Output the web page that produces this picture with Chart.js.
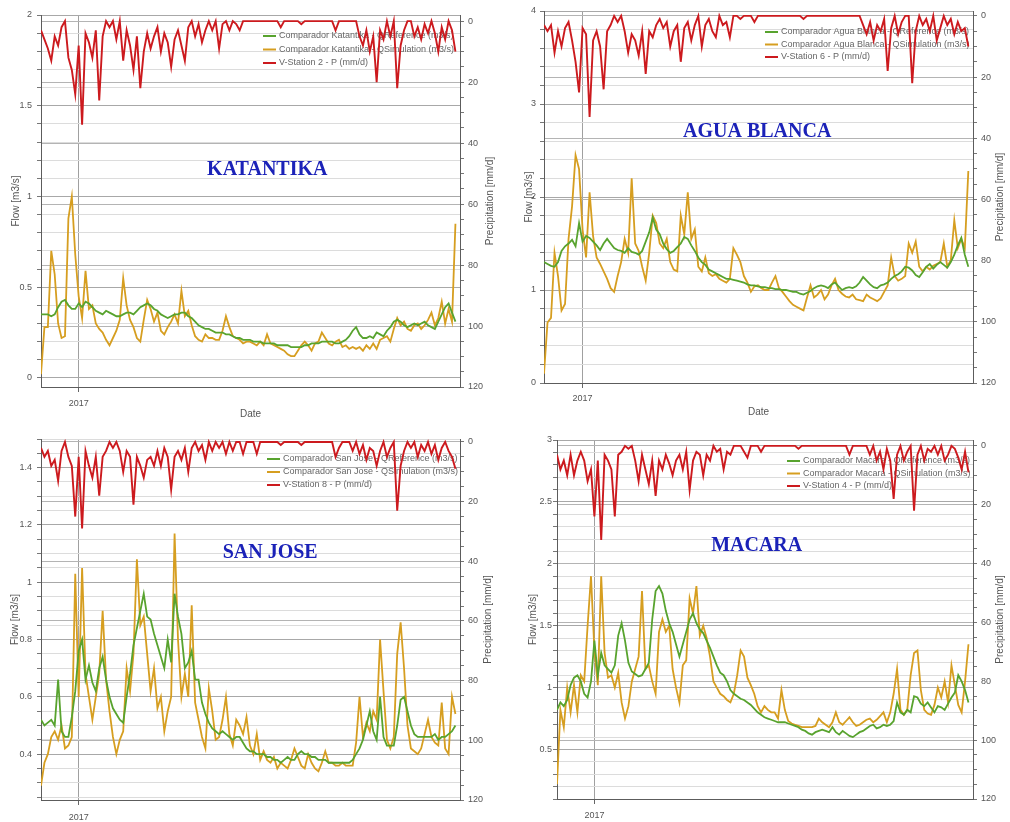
<!DOCTYPE html>
<html>
<head>
<meta charset="utf-8">
<script src="https://cdn.jsdelivr.net/npm/chart.js@4.4.1/dist/chart.umd.min.js"></script>
<style>
  html, body { margin: 0; padding: 0; background: #fff; }
  #wrap { position: relative; width: 1010px; height: 822px; overflow: hidden; background: #fff; }
  canvas { position: absolute; }
</style>
</head>
<body>
<div id="wrap">
  <canvas id="c1" width="505" height="420" style="left:0;top:0;width:505px;height:420px"></canvas>
  <canvas id="c2" width="505" height="420" style="left:505px;top:0;width:505px;height:420px"></canvas>
  <canvas id="c3" width="505" height="402" style="left:0;top:420px;width:505px;height:402px"></canvas>
  <canvas id="c4" width="505" height="402" style="left:505px;top:420px;width:505px;height:402px"></canvas>
</div>
<script>
// sample days, counted from 1 Jan 2017 (one reading every 3 days)
var days = Array.from({ length: 122 }, (_, i) => -33 + 3 * i);
var yearTicks = [0];
var yearLabels = ['2017'];
var rainLabels = [0, 20, 40, 60, 80, 100, 120];

// Katantika
var katantikaRef = [0.35,0.35,0.35,0.34,0.35,0.39,0.42,0.43,0.40,0.38,
  0.38,0.41,0.39,0.42,0.41,0.39,0.37,0.36,0.35,0.37,
  0.36,0.35,0.34,0.34,0.35,0.36,0.36,0.35,0.37,0.39,
  0.40,0.41,0.40,0.38,0.37,0.35,0.34,0.33,0.34,0.35,
  0.35,0.36,0.36,0.34,0.33,0.31,0.29,0.28,0.27,0.27,
  0.26,0.25,0.25,0.25,0.24,0.24,0.23,0.22,0.22,0.21,
  0.21,0.21,0.20,0.20,0.20,0.19,0.19,0.19,0.19,0.18,
  0.18,0.18,0.18,0.17,0.17,0.17,0.17,0.18,0.18,0.19,
  0.19,0.19,0.20,0.20,0.20,0.20,0.19,0.19,0.20,0.21,
  0.23,0.26,0.28,0.24,0.22,0.22,0.23,0.22,0.25,0.24,
  0.23,0.26,0.28,0.31,0.32,0.31,0.29,0.28,0.29,0.30,
  0.29,0.30,0.31,0.29,0.28,0.27,0.31,0.35,0.39,0.41,
  0.36,0.31];
var katantikaSim = [0.02,0.28,0.28,0.70,0.57,0.30,0.22,0.23,0.88,1.00,
  0.68,0.45,0.33,0.59,0.38,0.40,0.30,0.27,0.25,0.21,
  0.18,0.22,0.26,0.32,0.55,0.40,0.32,0.28,0.22,0.20,
  0.32,0.43,0.38,0.31,0.36,0.26,0.24,0.28,0.31,0.35,
  0.30,0.48,0.34,0.37,0.29,0.23,0.21,0.20,0.24,0.22,
  0.22,0.21,0.21,0.26,0.34,0.28,0.23,0.22,0.21,0.19,
  0.20,0.20,0.19,0.18,0.20,0.18,0.24,0.19,0.18,0.17,
  0.16,0.15,0.13,0.12,0.12,0.15,0.18,0.20,0.18,0.15,
  0.19,0.20,0.25,0.22,0.19,0.18,0.20,0.21,0.17,0.18,
  0.16,0.17,0.16,0.17,0.15,0.18,0.16,0.19,0.16,0.21,
  0.22,0.23,0.20,0.27,0.33,0.29,0.31,0.27,0.26,0.29,
  0.30,0.27,0.29,0.32,0.36,0.29,0.33,0.42,0.30,0.38,
  0.31,0.85];
var katantikaRain = [3,6,9,13,5,8,2,0,12,16,
  24,8,34,4,7,12,3,26,5,0,
  2,0,6,0,13,3,8,16,5,22,
  10,4,9,5,2,10,4,7,15,6,
  3,8,13,2,0,5,1,7,3,0,
  3,0,9,1,0,3,0,1,3,0,
  0,0,0,0,0,0,0,0,0,0,
  2,0,0,0,0,0,1,0,0,0,
  0,0,0,0,0,0,3,0,0,0,
  0,0,0,5,8,3,10,5,20,3,
  6,0,5,0,22,8,3,0,0,5,
  2,6,1,4,0,4,10,2,6,0,
  3,10];

// Agua Blanca
var aguaRef = [1.30,1.28,1.26,1.25,1.30,1.42,1.47,1.50,1.54,1.47,
  1.72,1.52,1.58,1.56,1.52,1.48,1.43,1.50,1.55,1.50,
  1.45,1.43,1.42,1.40,1.45,1.41,1.40,1.38,1.42,1.52,
  1.62,1.78,1.65,1.60,1.50,1.44,1.40,1.42,1.46,1.50,
  1.57,1.55,1.48,1.42,1.35,1.30,1.27,1.22,1.20,1.18,
  1.16,1.14,1.12,1.12,1.11,1.10,1.09,1.08,1.06,1.05,
  1.05,1.04,1.03,1.03,1.02,1.02,1.01,1.01,1.00,1.00,
  0.99,0.98,0.98,0.96,0.95,0.97,0.99,1.02,1.04,1.05,
  1.04,1.02,1.06,1.08,1.04,1.00,1.02,1.03,1.02,1.04,
  1.08,1.14,1.10,1.06,1.03,1.02,1.05,1.06,1.08,1.12,
  1.15,1.17,1.20,1.25,1.24,1.21,1.16,1.14,1.19,1.25,
  1.28,1.23,1.27,1.30,1.27,1.24,1.30,1.38,1.48,1.56,
  1.38,1.25];
var aguaSim = [0.10,0.65,0.70,1.40,1.15,0.78,0.85,1.55,1.90,2.45,
  2.30,1.65,1.35,2.05,1.58,1.35,1.28,1.20,1.12,1.02,
  0.98,1.15,1.30,1.55,1.40,2.20,1.50,1.42,1.25,1.10,
  1.40,1.80,1.72,1.50,1.45,1.55,1.30,1.22,1.20,1.80,
  1.60,2.05,1.55,1.65,1.25,1.20,1.35,1.18,1.15,1.17,
  1.12,1.10,1.08,1.12,1.45,1.38,1.30,1.15,1.08,0.98,
  1.04,1.05,1.02,1.00,1.00,1.08,1.15,1.02,0.98,0.93,
  0.88,0.84,0.82,0.80,0.78,0.92,1.05,0.92,0.95,1.00,
  0.90,0.95,1.05,1.12,1.00,0.96,0.93,0.92,0.95,0.90,
  0.89,0.88,0.95,0.92,0.90,0.88,0.91,0.98,1.05,1.35,
  1.15,1.10,1.12,1.15,1.50,1.40,1.52,1.25,1.20,1.25,
  1.22,1.26,1.28,1.30,1.50,1.25,1.32,1.75,1.45,1.55,
  1.45,2.28];
var aguaRain = [3,5,3,12,5,10,4,2,8,15,
  25,4,6,33,8,5,10,24,5,3,
  0,2,0,5,12,6,8,13,5,19,
  5,7,3,1,4,2,10,5,3,15,
  4,2,8,3,0,10,3,1,5,7,
  0,3,2,7,0,0,1,0,0,0,
  2,0,0,0,0,0,0,0,0,0,
  0,0,0,0,1,0,0,0,0,0,
  0,0,0,0,0,0,0,0,0,0,
  0,3,6,2,8,3,5,1,18,4,
  0,6,2,0,0,22,5,0,3,1,
  5,0,8,4,0,3,1,6,2,5,
  4,10];

// San Jose
var sanJoseRef = [0.52,0.50,0.51,0.52,0.50,0.66,0.48,0.46,0.46,0.53,
  0.62,0.76,0.80,0.66,0.71,0.65,0.62,0.70,0.74,0.66,
  0.60,0.56,0.54,0.52,0.51,0.60,0.68,0.78,0.84,0.90,
  0.96,0.88,0.87,0.82,0.78,0.74,0.70,0.80,0.72,0.96,
  0.88,0.82,0.70,0.72,0.76,0.66,0.66,0.58,0.54,0.51,
  0.49,0.48,0.47,0.48,0.47,0.46,0.45,0.46,0.46,0.44,
  0.42,0.41,0.41,0.40,0.40,0.40,0.39,0.39,0.38,0.38,
  0.37,0.38,0.39,0.38,0.38,0.40,0.41,0.40,0.40,0.39,
  0.39,0.38,0.38,0.38,0.37,0.37,0.37,0.37,0.37,0.37,
  0.37,0.38,0.40,0.42,0.45,0.50,0.55,0.48,0.45,0.60,
  0.46,0.43,0.43,0.43,0.50,0.59,0.60,0.55,0.50,0.47,
  0.46,0.46,0.46,0.46,0.46,0.47,0.45,0.46,0.46,0.47,
  0.48,0.50];
var sanJoseSim = [0.29,0.37,0.40,0.46,0.48,0.45,0.50,0.42,0.43,0.46,
  1.03,0.60,1.05,0.68,0.60,0.52,0.60,0.68,0.90,0.66,
  0.55,0.46,0.40,0.45,0.48,0.70,0.62,0.75,1.08,0.85,
  0.88,0.75,0.62,0.70,0.56,0.60,0.48,0.55,0.60,1.17,
  0.80,0.60,0.68,0.60,0.92,0.58,0.52,0.46,0.42,0.63,
  0.55,0.45,0.46,0.52,0.60,0.47,0.43,0.52,0.50,0.47,
  0.53,0.43,0.40,0.47,0.38,0.41,0.38,0.37,0.39,0.35,
  0.37,0.36,0.35,0.38,0.42,0.39,0.36,0.35,0.40,0.37,
  0.35,0.34,0.37,0.41,0.37,0.37,0.36,0.36,0.37,0.36,
  0.36,0.36,0.44,0.60,0.46,0.51,0.48,0.55,0.52,0.80,
  0.62,0.45,0.42,0.46,0.75,0.86,0.70,0.50,0.42,0.41,
  0.40,0.42,0.47,0.52,0.46,0.44,0.43,0.58,0.42,0.40,
  0.60,0.54];
var sanJoseRain = [2,5,3,8,6,13,3,0,5,8,
  25,5,29,3,8,12,5,18,5,3,
  0,2,0,3,10,3,5,21,5,8,
  12,6,5,8,3,8,2,5,16,5,
  3,6,2,10,2,0,3,1,6,0,
  3,0,2,0,4,0,3,0,0,4,
  0,0,0,4,0,0,0,0,0,0,
  1,0,0,0,0,0,1,0,0,0,
  0,0,0,0,0,0,5,2,0,0,
  0,3,0,4,1,6,2,3,8,3,
  0,5,2,0,23,8,3,0,2,0,
  5,1,3,0,4,1,6,2,0,3,
  5,9];

// Macara
var macaraRef = [0.82,0.88,0.85,0.90,1.02,1.08,1.10,1.05,0.95,0.92,
  1.05,1.38,1.10,1.28,1.18,1.15,1.12,1.18,1.42,1.52,
  1.38,1.20,1.13,1.11,1.09,1.10,1.15,1.20,1.55,1.78,
  1.82,1.76,1.62,1.52,1.45,1.35,1.25,1.35,1.45,1.55,
  1.60,1.52,1.47,1.44,1.38,1.32,1.25,1.18,1.12,1.10,
  1.05,0.98,0.95,0.93,0.91,0.90,0.88,0.86,0.83,0.80,
  0.78,0.76,0.75,0.74,0.73,0.72,0.72,0.72,0.71,0.70,
  0.69,0.68,0.66,0.65,0.63,0.62,0.64,0.65,0.66,0.65,
  0.64,0.68,0.64,0.62,0.65,0.63,0.61,0.60,0.62,0.64,
  0.65,0.67,0.69,0.70,0.67,0.68,0.70,0.69,0.70,0.73,
  0.88,0.80,0.78,0.82,0.80,0.93,0.92,0.87,0.85,0.88,
  0.84,0.80,0.85,0.84,0.82,0.87,0.92,0.96,1.10,1.05,
  0.98,0.88];
var macaraSim = [0.22,0.82,0.68,1.00,0.80,1.02,0.80,1.10,1.05,1.50,
  1.90,1.30,1.02,1.90,1.28,1.08,1.10,1.00,1.12,0.88,
  0.75,0.85,1.05,1.15,1.25,1.78,1.15,1.18,1.05,0.95,
  1.45,1.55,1.45,1.50,1.15,1.00,0.88,1.18,1.22,1.72,
  1.60,1.82,1.42,1.50,1.40,1.25,1.05,1.00,0.95,0.93,
  0.90,0.88,0.95,1.10,1.30,1.25,1.08,1.02,0.95,0.85,
  0.80,0.85,0.82,0.80,0.80,0.75,0.98,0.82,0.73,0.71,
  0.70,0.69,0.68,0.68,0.68,0.68,0.69,0.75,0.72,0.70,
  0.68,0.72,0.80,0.72,0.70,0.73,0.76,0.72,0.69,0.70,
  0.72,0.74,0.75,0.72,0.74,0.77,0.80,0.72,0.80,0.95,
  1.15,0.82,0.78,0.82,1.10,1.28,1.30,0.98,0.82,0.79,
  0.78,0.86,1.00,0.92,1.05,0.88,1.18,1.02,0.86,0.80,
  1.05,1.35];
var macaraRain = [3,8,5,10,3,10,5,2,5,12,
  8,24,5,32,3,5,8,24,3,2,
  0,1,0,5,12,3,8,13,5,17,
  5,8,3,6,10,5,3,8,2,15,
  5,2,3,10,3,5,0,2,1,8,
  2,3,0,0,0,2,4,0,0,0,
  2,0,0,0,0,0,0,0,0,0,
  0,1,0,0,0,0,0,0,0,0,
  0,0,0,0,0,0,3,0,0,0,
  0,0,3,0,5,2,8,1,5,18,
  3,0,5,2,0,22,3,0,5,1,
  2,0,3,0,5,3,0,1,4,8,
  2,9];

var panels = [
  { id: 'c1', name: 'KATANTIKA', river: 'Katantika', station: 'V-Station 2',
    ref: katantikaRef, sim: katantikaSim, rain: katantikaRain,
    flowMin: -0.05, flowMax: 2, flowStep: 0.1, flowLabels: [0, 0.5, 1, 1.5, 2], rainMin: -2,
    box: { left: 41, right: 45, top: 15, bottom: 33 },
    flowTitlePad: 10, flowTickPad: 5, yearPad: 6, showDate: true, datePad: 0,
    namePos: [0.54, 0.417], legend: [197, 21, 13.5], rainTitleGap: 30 },
  { id: 'c2', name: 'AGUA BLANCA', river: 'Agua Blanca', station: 'V-Station 6',
    ref: aguaRef, sim: aguaSim, rain: aguaRain,
    flowMin: 0, flowMax: 4, flowStep: 0.2, flowLabels: [0, 1, 2, 3, 4], rainMin: -1.6,
    box: { left: 39, right: 37, top: 11, bottom: 37 },
    flowTitlePad: 18, flowTickPad: 4, yearPad: 5, showDate: true, datePad: 2,
    namePos: [0.497, 0.325], legend: [208, 21, 12.5], rainTitleGap: 27 },
  { id: 'c3', name: 'SAN JOSE', river: 'San Jose', station: 'V-Station 8',
    ref: sanJoseRef, sim: sanJoseSim, rain: sanJoseRain,
    flowMin: 0.24, flowMax: 1.5, flowStep: 0.05, flowLabels: [0.4, 0.6, 0.8, 1, 1.2, 1.4], rainMin: -1,
    box: { left: 41, right: 45, top: 19, bottom: 22 },
    flowTitlePad: 9, flowTickPad: 5, yearPad: 7, showDate: false, datePad: 0,
    namePos: [0.547, 0.316], legend: [193, 20, 13], rainTitleGap: 28 },
  { id: 'c4', name: 'MACARA', river: 'Macara', station: 'V-Station 4',
    ref: macaraRef, sim: macaraSim, rain: macaraRain,
    flowMin: 0.1, flowMax: 3, flowStep: 0.1, flowLabels: [0.5, 1, 1.5, 2, 2.5, 3], rainMin: -2,
    box: { left: 52, right: 37, top: 20, bottom: 23 },
    flowTitlePad: 22, flowTickPad: 1, yearPad: 6, showDate: false, datePad: 0,
    namePos: [0.48, 0.295], legend: [186, 21, 12.5], rainTitleGap: 27 }
];

var GREEN = '#58a32e', ORANGE = '#d69e20', RED = '#cc1a1e';

Chart.defaults.font.family = '"Liberation Sans", Arial, sans-serif';
Chart.defaults.font.size = 9;
Chart.defaults.color = '#555';

function stepTicks(min, max, step) {
  var out = [];
  var k = Math.ceil(min / step - 1e-9);
  for (; k * step <= max + 1e-9; k++) out.push({ value: Math.round(k * step * 10000) / 10000 });
  return out;
}
function isIn(list, v) {
  return list.some(function (x) { return Math.abs(x - v) < 1e-6; });
}

function makeOverlay(p) {
  return {
    id: 'overlay' + p.id,
    beforeDatasetsDraw: function (chart) {
      var ctx = chart.ctx, a = chart.chartArea;
      var x0 = a.right - p.legend[0], y0 = a.top + p.legend[1];
      var rows = [
        [GREEN, 'Comparador ' + p.river + ' - QReference (m3/s)'],
        [ORANGE, 'Comparador ' + p.river + ' - QSimulation (m3/s)'],
        [RED, p.station + ' - P (mm/d)']
      ];
      ctx.save();
      ctx.font = '9px "Liberation Sans", Arial, sans-serif';
      ctx.textBaseline = 'middle';
      rows.forEach(function (r, i) {
        var y = y0 + i * p.legend[2];
        ctx.strokeStyle = r[0];
        ctx.lineWidth = 2;
        ctx.beginPath();
        ctx.moveTo(x0, y);
        ctx.lineTo(x0 + 13, y);
        ctx.stroke();
        ctx.fillStyle = '#666';
        ctx.fillText(r[1], x0 + 16, y);
      });
      ctx.restore();
    },
    afterDraw: function (chart) {
      var ctx = chart.ctx, a = chart.chartArea;
      ctx.save();
      ctx.font = 'bold 20px "Liberation Serif", "Times New Roman", serif';
      ctx.fillStyle = '#1b22b8';
      ctx.textAlign = 'center';
      ctx.textBaseline = 'middle';
      ctx.fillText(p.name, a.left + a.width * p.namePos[0], a.top + a.height * p.namePos[1]);
      ctx.font = '10px "Liberation Sans", Arial, sans-serif';
      ctx.fillStyle = '#555';
      ctx.translate(a.right + p.rainTitleGap, (a.top + a.bottom) / 2);
      ctx.rotate(-Math.PI / 2);
      ctx.fillText('Precipitation [mm/d]', 0, 0);
      ctx.restore();
    }
  };
}

panels.forEach(function (p) {
  var ctx = document.getElementById(p.id).getContext('2d');
  var toXY = function (vals) { return days.map(function (d, i) { return { x: d, y: vals[i] }; }); };
  new Chart(ctx, {
    type: 'line',
    data: {
      datasets: [
        { label: p.station + ' - P (mm/d)', data: toXY(p.rain), yAxisID: 'y1',
          borderColor: RED, borderWidth: 1.9, pointRadius: 0, tension: 0 },
        { label: 'Comparador ' + p.river + ' - QReference (m3/s)', data: toXY(p.ref), yAxisID: 'y',
          borderColor: GREEN, borderWidth: 1.8, pointRadius: 0, tension: 0 },
        { label: 'Comparador ' + p.river + ' - QSimulation (m3/s)', data: toXY(p.sim), yAxisID: 'y',
          borderColor: ORANGE, borderWidth: 1.8, pointRadius: 0, tension: 0 }
      ]
    },
    options: {
      responsive: false,
      animation: false,
      devicePixelRatio: 1,
      layout: { padding: { top: p.box.top, left: 0, right: 0, bottom: 0 } },
      plugins: { legend: { display: false }, tooltip: { enabled: false } },
      scales: {
        x: {
          type: 'linear', min: -33, max: 334,
          afterBuildTicks: function (a) { a.ticks = yearTicks.map(function (v) { return { value: v }; }); },
          afterFit: function (a) { a.height = p.box.bottom; },
          ticks: { callback: function (v) { return yearLabels[yearTicks.indexOf(v)]; }, padding: p.yearPad, maxRotation: 0, autoSkip: false },
          grid: { color: '#a0a0a0', lineWidth: 1, tickLength: 5, tickColor: '#666' },
          border: { color: '#5c5c5c' },
          title: { display: p.showDate, text: 'Date', padding: { top: 0, bottom: p.datePad }, font: { size: 10 } }
        },
        y: {
          position: 'left', min: p.flowMin, max: p.flowMax,
          afterBuildTicks: function (a) { a.ticks = stepTicks(p.flowMin, p.flowMax, p.flowStep); },
          afterFit: function (a) { a.width = p.box.left; },
          ticks: { callback: function (v) { return isIn(p.flowLabels, v) ? String(v) : ''; }, padding: p.flowTickPad, autoSkip: false },
          grid: {
            color: function (c) { return c.tick && isIn(p.flowLabels, c.tick.value) ? '#a8a8a8' : '#dcdcdc'; },
            tickLength: 4, tickColor: '#777'
          },
          border: { color: '#5c5c5c' },
          title: { display: true, text: 'Flow [m3/s]', padding: { top: p.flowTitlePad, bottom: 0 }, font: { size: 10 } }
        },
        y1: {
          position: 'right', reverse: true, min: p.rainMin, max: 120,
          afterBuildTicks: function (a) { a.ticks = stepTicks(0, 120, 5); },
          afterFit: function (a) { a.width = p.box.right; },
          ticks: { callback: function (v) { return isIn(rainLabels, v) ? String(v) : ''; }, padding: 4, autoSkip: false },
          grid: {
            color: function (c) { return c.tick && isIn(rainLabels, c.tick.value) ? '#b4b4b4' : 'rgba(0,0,0,0)'; },
            tickLength: 4, tickColor: '#777'
          },
          border: { color: '#5c5c5c' },
          title: { display: false }
        }
      }
    },
    plugins: [makeOverlay(p)]
  });
});
</script>
</body>
</html>
